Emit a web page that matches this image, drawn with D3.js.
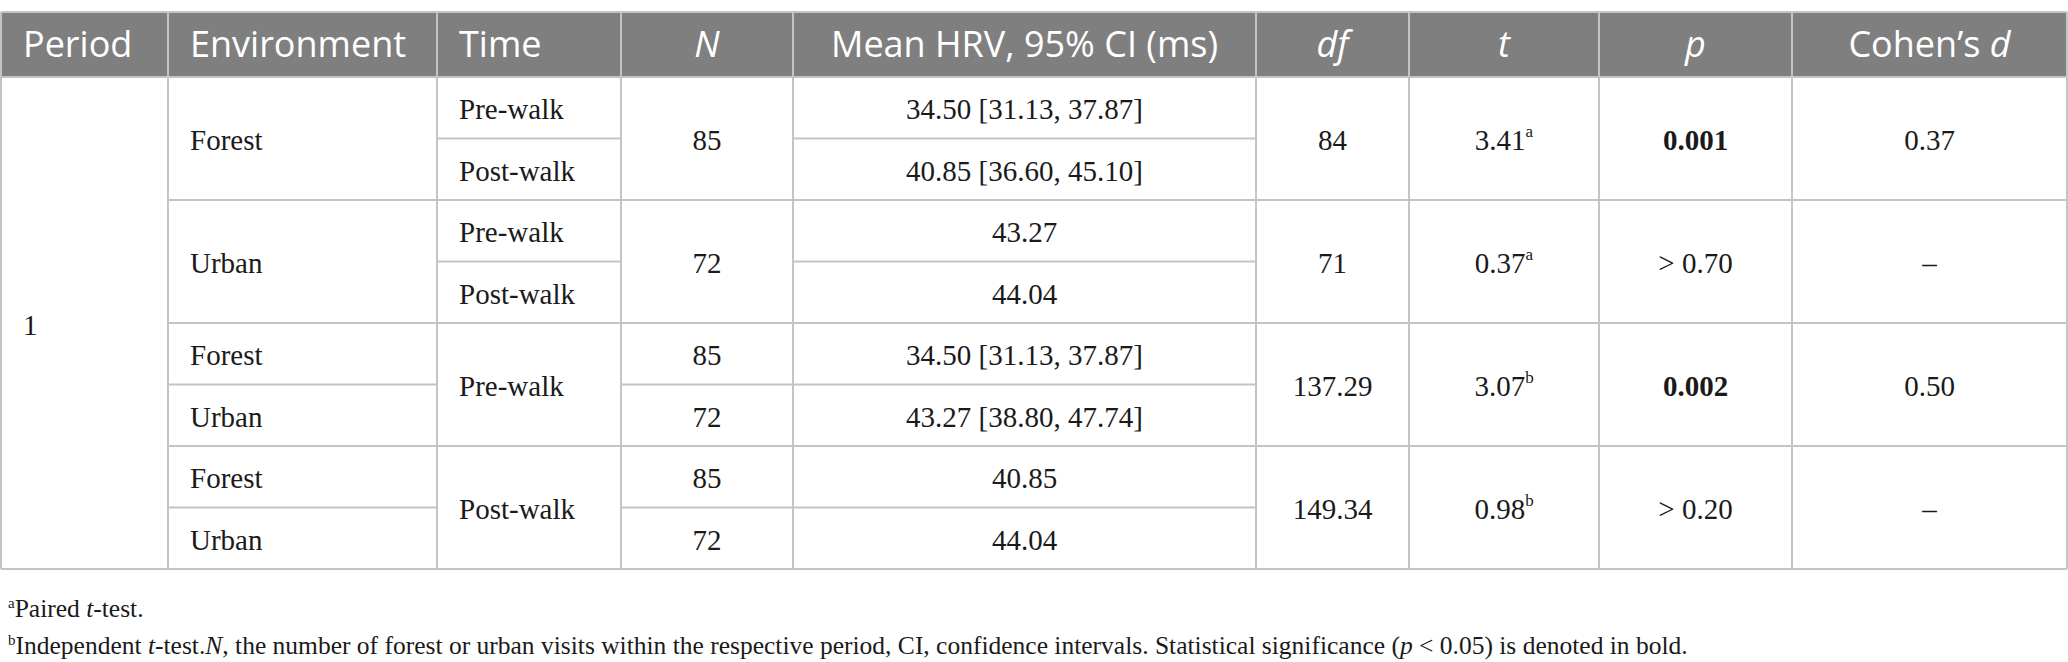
<!DOCTYPE html>
<html>
<head>
<meta charset="utf-8">
<script src="https://cdn.jsdelivr.net/npm/d3@7"></script>
<style>
  html, body { margin: 0; padding: 0; background: #fff; }
  svg { display: block; }
</style>
</head>
<body>
<div id="table"></div>
<script>
// ---- data ----
var headers = ["Period", "Environment", "Time", "N", "Mean HRV, 95% CI (ms)", "df", "t", "p", "Cohen’s d"];
var periods = [{text: "1", from: 0, to: 8}];
var environments = [
  {text: "Forest", from: 0, to: 2}, {text: "Urban", from: 2, to: 4},
  {text: "Forest", from: 4, to: 5}, {text: "Urban", from: 5, to: 6},
  {text: "Forest", from: 6, to: 7}, {text: "Urban", from: 7, to: 8}
];
var times = [
  {text: "Pre-walk", from: 0, to: 1}, {text: "Post-walk", from: 1, to: 2},
  {text: "Pre-walk", from: 2, to: 3}, {text: "Post-walk", from: 3, to: 4},
  {text: "Pre-walk", from: 4, to: 6}, {text: "Post-walk", from: 6, to: 8}
];
var nVals = [
  {text: "85", from: 0, to: 2}, {text: "72", from: 2, to: 4},
  {text: "85", from: 4, to: 5}, {text: "72", from: 5, to: 6},
  {text: "85", from: 6, to: 7}, {text: "72", from: 7, to: 8}
];
var meanHRV = ["34.50 [31.13, 37.87]", "40.85 [36.60, 45.10]", "43.27", "44.04",
               "34.50 [31.13, 37.87]", "43.27 [38.80, 47.74]", "40.85", "44.04"];
var dfVals = ["84", "71", "137.29", "149.34"];
var tVals = ["3.41", "0.37", "3.07", "0.98"];
var tNotes = ["a", "a", "b", "b"];
var pVals = ["0.001", "> 0.70", "0.002", "> 0.20"];
var pBold = [true, false, true, false];
var dVals = ["0.37", "–", "0.50", "–"];

// ---- layout ----
var W = 2068, H = 662;
var colEdges = [1, 168, 437, 621, 793, 1256, 1409, 1599, 1792, 2067];
var headerTop = 12, headerBottom = 77, tableBottom = 569;
var nRows = 8;
var lineColor = "#c4c4c4";
var serif = "'Liberation Serif', 'Times New Roman', serif";
var sans = "'Open Sans', 'Noto Sans', sans-serif";

var y = d3.scaleLinear().domain([0, nRows]).range([headerBottom, tableBottom]);

var svg = d3.select("#table").append("svg")
  .attr("width", W).attr("height", H);

// header
svg.append("rect")
  .attr("x", colEdges[0]).attr("y", headerTop)
  .attr("width", colEdges[9] - colEdges[0]).attr("height", headerBottom - headerTop)
  .attr("fill", "#7f7f7f");

var headAlign = ["start", "start", "start", "middle", "middle", "middle", "middle", "middle", "middle"];
var headText = svg.append("g").selectAll("text")
  .data(headers).enter().append("text")
    .attr("x", (d, i) => headAlign[i] === "start" ? colEdges[i] + 22 : (colEdges[i] + colEdges[i + 1]) / 2)
    .attr("y", (headerTop + headerBottom) / 2)
    .attr("dy", "0.36em")
    .attr("text-anchor", (d, i) => headAlign[i])
    .attr("font-family", sans)
    .attr("font-size", 36)
    .attr("fill", "#fff");
headText.each(function(d) {
  var t = d3.select(this);
  if (d === "N" || d === "df" || d === "t" || d === "p") {
    t.attr("font-style", "italic").text(d);
  } else if (d === "Cohen’s d") {
    t.append("tspan").text("Cohen’s ");
    t.append("tspan").attr("font-style", "italic").text("d");
  } else {
    t.text(d);
  }
});

// body cells
function spanCells(col, items, align) {
  var g = svg.append("g");
  g.selectAll("text").data(items).enter().append("text")
    .attr("x", align === "start" ? colEdges[col] + 22 : (colEdges[col] + colEdges[col + 1]) / 2)
    .attr("y", d => (y(d.from) + y(d.to)) / 2)
    .attr("dy", "0.4em")
    .attr("text-anchor", align)
    .attr("font-family", serif)
    .attr("font-size", 29)
    .attr("fill", "#1a1a1a")
    .text(d => d.text);
  // horizontal separators inside the column
  g.selectAll("line").data(items.slice(1)).enter().append("line")
    .attr("x1", colEdges[col]).attr("x2", colEdges[col + 1])
    .attr("y1", d => y(d.from)).attr("y2", d => y(d.from))
    .attr("stroke", lineColor).attr("stroke-width", 2);
  return g;
}

var pairs = d3.range(4).map(i => ({from: i * 2, to: i * 2 + 2}));

spanCells(0, periods, "start");
spanCells(1, environments, "start");
spanCells(2, times, "start");
spanCells(3, nVals, "middle");
spanCells(4, meanHRV.map((d, i) => ({text: d, from: i, to: i + 1})), "middle");
spanCells(5, pairs.map((r, i) => ({text: dfVals[i], from: r.from, to: r.to})), "middle");

var tG = spanCells(6, pairs.map((r, i) => ({text: tVals[i], from: r.from, to: r.to})), "middle");
tG.selectAll("text").append("tspan")
  .attr("font-size", 17).attr("dy", "-0.75em")
  .text((d, i) => tNotes[i]);

var pG = spanCells(7, pairs.map((r, i) => ({text: pVals[i], from: r.from, to: r.to})), "middle");
pG.selectAll("text").attr("font-weight", (d, i) => pBold[i] ? "bold" : "normal");

spanCells(8, pairs.map((r, i) => ({text: dVals[i], from: r.from, to: r.to})), "middle");

// vertical grid lines and outer border
svg.append("g").selectAll("line")
  .data(colEdges).enter().append("line")
    .attr("x1", d => d).attr("x2", d => d)
    .attr("y1", headerTop).attr("y2", tableBottom)
    .attr("stroke", lineColor).attr("stroke-width", 2);
svg.append("g").selectAll("line")
  .data([headerTop, headerBottom, tableBottom]).enter().append("line")
    .attr("x1", colEdges[0]).attr("x2", colEdges[9])
    .attr("y1", d => d).attr("y2", d => d)
    .attr("stroke", lineColor).attr("stroke-width", 2);

// footnotes
var foot = svg.append("g")
  .attr("font-family", serif).attr("font-size", 25.5).attr("fill", "#1a1a1a");
var f1 = foot.append("text").attr("x", 8).attr("y", 617);
f1.append("tspan").attr("font-size", 15).attr("dy", "-0.6em").text("a");
f1.append("tspan").attr("dy", "0.36em").text("Paired ");
f1.append("tspan").attr("font-style", "italic").text("t");
f1.append("tspan").text("-test.");

var f2 = foot.append("text").attr("x", 8).attr("y", 654);
f2.append("tspan").attr("font-size", 15).attr("dy", "-0.6em").text("b");
f2.append("tspan").attr("dy", "0.36em").text("Independent ");
f2.append("tspan").attr("font-style", "italic").text("t");
f2.append("tspan").text("-test.");
f2.append("tspan").attr("font-style", "italic").text("N");
f2.append("tspan").text(", the number of forest or urban visits within the respective period, CI, confidence intervals. Statistical significance (");
f2.append("tspan").attr("font-style", "italic").text("p");
f2.append("tspan").text(" < 0.05) is denoted in bold.");
</script>
</body>
</html>
